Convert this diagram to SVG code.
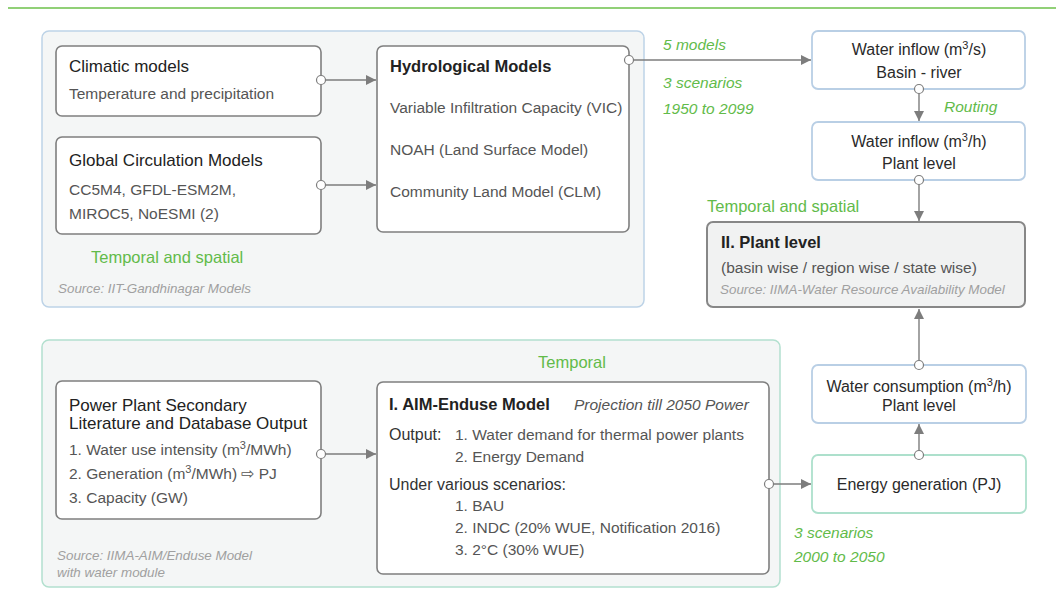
<svg xmlns="http://www.w3.org/2000/svg" width="1056" height="595" viewBox="0 0 1056 595">
<defs>
<marker id="arr" markerUnits="userSpaceOnUse" markerWidth="11" markerHeight="11" refX="10" refY="5" orient="auto">
<path d="M0,0 L10,5 L0,10 Z" fill="#7d7d7d"/>
</marker>
<style>
text{font-family:"Liberation Sans",Arial,sans-serif;}
.ttl{font-size:17px;fill:#222;}
.bt{font-size:16.5px;font-weight:bold;fill:#222;}
.bd{font-size:15.5px;fill:#555;}
.dk{font-size:16px;fill:#333;}
.src{font-size:13.4px;font-style:italic;fill:#a0a0a0;}
.grn{font-size:16.5px;fill:#62bb4a;}
.gi{font-size:15.5px;font-style:italic;fill:#62bb4a;}
.ctr{font-size:16px;fill:#2a2a2a;text-anchor:middle;}
.box{fill:#fff;stroke:#7f7f7f;stroke-width:1.6;}
.bbox{fill:#fff;stroke:#b9cfe5;stroke-width:1.8;}
.tbox{fill:#fff;stroke:#ade0cc;stroke-width:1.8;}
.cn{stroke:#7d7d7d;stroke-width:1.4;fill:none;marker-end:url(#arr);}
.dot{fill:#fff;stroke:#7d7d7d;stroke-width:1.2;}
</style>
</defs>
<line x1="8" y1="8" x2="1056" y2="8" stroke="#6cc04a" stroke-width="1.5"/>

<g id="container-top">
<rect x="42" y="31" width="602" height="276" rx="7" fill="#f4f6f6" stroke="#bdd3e7" stroke-width="1.5"/>
<text class="grn" x="91" y="263">Temporal and spatial</text>
<text class="src" x="58" y="293">Source: IIT-Gandhinagar Models</text>
</g>
<g id="container-bottom">
<rect x="42" y="340" width="738" height="247" rx="7" fill="#f4f6f6" stroke="#b3e0cf" stroke-width="1.5"/>
<text class="grn" x="572" y="368" text-anchor="middle">Temporal</text>
<text class="src" x="57" y="560">Source: IIMA-AIM/Enduse Model</text>
<text class="src" x="57" y="577">with water module</text>
</g>

<g id="climatic">
<rect class="box" x="56" y="46" width="265" height="70" rx="6"/>
<text class="ttl" x="69" y="72">Climatic models</text>
<text class="bd" x="69" y="99">Temperature and precipitation</text>
</g>
<g id="gcm">
<rect class="box" x="56" y="137" width="265" height="97" rx="6"/>
<text class="ttl" x="69" y="166">Global Circulation Models</text>
<text class="bd" x="69" y="195">CC5M4, GFDL-ESM2M,</text>
<text class="bd" x="69" y="219">MIROC5, NoESMI (2)</text>
</g>
<g id="hydro">
<rect class="box" x="377" y="46" width="252" height="186" rx="6"/>
<text class="bt" x="390" y="72">Hydrological Models</text>
<text class="bd" x="390" y="113">Variable Infiltration Capacity (VIC)</text>
<text class="bd" x="390" y="155">NOAH (Land Surface Model)</text>
<text class="bd" x="390" y="197">Community Land Model (CLM)</text>
</g>
<g id="inflow-basin">
<rect class="bbox" x="812" y="31" width="213" height="58" rx="6"/>
<text class="ctr" x="919" y="55">Water inflow (m<tspan dy="-6" font-size="11">3</tspan><tspan dy="6">/s)</tspan></text>
<text class="ctr" x="919" y="78">Basin - river</text>
</g>
<g id="inflow-plant">
<rect class="bbox" x="812" y="122" width="213" height="58" rx="6"/>
<text class="ctr" x="919" y="147">Water inflow (m<tspan dy="-6" font-size="11">3</tspan><tspan dy="6">/h)</tspan></text>
<text class="ctr" x="919" y="169">Plant level</text>
</g>
<g id="plant-level">
<rect x="707" y="222" width="318" height="85" rx="6" fill="#f1f2f2" stroke="#878787" stroke-width="2"/>
<text class="bt" x="721" y="248">II. Plant level</text>
<text class="bd" x="721" y="273">(basin wise / region wise / state wise)</text>
<text class="src" x="720" y="294" font-size="13.8">Source: IIMA-Water Resource Availability Model</text>
</g>
<g id="consumption">
<rect class="bbox" x="812" y="365" width="214" height="58" rx="6"/>
<text class="ctr" x="919" y="392">Water consumption (m<tspan dy="-6" font-size="11">3</tspan><tspan dy="6">/h)</tspan></text>
<text class="ctr" x="919" y="411">Plant level</text>
</g>
<g id="energy">
<rect class="tbox" x="812" y="455" width="214" height="58" rx="6"/>
<text class="ctr" x="919" y="490">Energy generation (PJ)</text>
</g>
<g id="powerplant">
<rect class="box" x="56" y="381" width="265" height="138" rx="6"/>
<text class="ttl" x="69" y="411">Power Plant Secondary</text>
<text class="ttl" x="69" y="429">Literature and Database Output</text>
<text class="bd" x="69" y="455">1. Water use intensity (m<tspan dy="-6" font-size="11">3</tspan><tspan dy="6">/MWh)</tspan></text>
<text class="bd" x="69" y="479">2. Generation (m<tspan dy="-6" font-size="11">3</tspan><tspan dy="6">/MWh) ⇨ PJ</tspan></text>
<text class="bd" x="69" y="503">3. Capacity (GW)</text>
</g>
<g id="aim">
<rect class="box" x="377" y="382" width="392" height="192" rx="6" stroke-width="2"/>
<text class="bt" x="389" y="410">I. AIM-Enduse Model</text>
<text class="bd" x="574" y="410" font-style="italic">Projection till 2050 Power</text>
<text class="dk" x="389" y="440">Output:</text>
<text class="bd" x="455" y="440">1. Water demand for thermal power plants</text>
<text class="bd" x="455" y="462">2. Energy Demand</text>
<text class="dk" x="389" y="490">Under various scenarios:</text>
<text class="bd" x="455" y="511">1. BAU</text>
<text class="bd" x="455" y="533">2. INDC (20% WUE, Notification 2016)</text>
<text class="bd" x="455" y="555">3. 2°C (30% WUE)</text>
</g>

<g id="labels">
<text class="gi" x="663" y="50">5 models</text>
<text class="gi" x="663" y="88">3 scenarios</text>
<text class="gi" x="663" y="114">1950 to 2099</text>
<text class="gi" x="944" y="112">Routing</text>
<text class="grn" x="707" y="212">Temporal and spatial</text>
<text class="gi" x="794" y="538">3 scenarios</text>
<text class="gi" x="794" y="562">2000 to 2050</text>
</g>

<g id="connectors">
<line class="cn" x1="321" y1="80" x2="376" y2="80"/>
<line class="cn" x1="321" y1="185" x2="376" y2="185"/>
<line class="cn" x1="629" y1="60" x2="811" y2="60"/>
<line class="cn" x1="919" y1="89" x2="919" y2="121"/>
<line class="cn" x1="919" y1="180" x2="919" y2="221"/>
<line class="cn" x1="919" y1="365" x2="919" y2="309"/>
<line class="cn" x1="919" y1="455" x2="919" y2="424"/>
<line class="cn" x1="321" y1="454" x2="376" y2="454"/>
<line class="cn" x1="769" y1="484" x2="811" y2="484"/>
<circle class="dot" cx="321" cy="80" r="4.5"/>
<circle class="dot" cx="321" cy="185" r="4.5"/>
<circle class="dot" cx="629" cy="60" r="4.5"/>
<circle class="dot" cx="919" cy="89" r="4.5"/>
<circle class="dot" cx="919" cy="180" r="4.5"/>
<circle class="dot" cx="919" cy="365" r="4.5"/>
<circle class="dot" cx="919" cy="455" r="4.5"/>
<circle class="dot" cx="321" cy="454" r="4.5"/>
<circle class="dot" cx="769" cy="484" r="4.5"/>
</g>
</svg>
